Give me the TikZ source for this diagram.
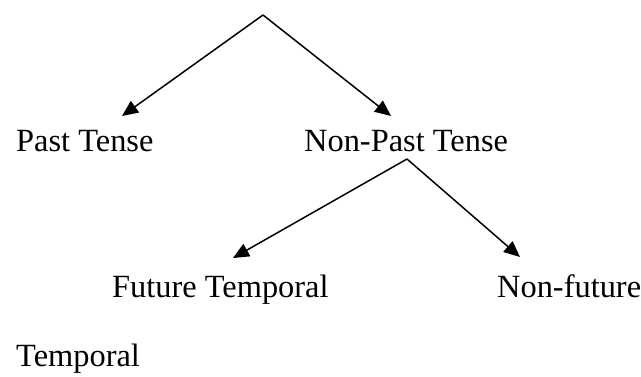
\documentclass[tikz,border=0pt]{standalone}
\usepackage{fontspec}
\setmainfont{Liberation Serif}
\usetikzlibrary{arrows.meta}
\begin{document}
\begin{tikzpicture}[x=1pt,y=-1pt,
  label/.style={anchor=base west,inner sep=0pt,font=\fontsize{32.4}{38}\selectfont},
  branch/.style={line width=1.5pt,-{Triangle[length=16pt,width=14pt]}}]
  \useasboundingbox (0,0) rectangle (641,376);
  % category labels
  \node[label] (past)    at (16,151)  {Past Tense};
  \node[label] (nonpast) at (304,151) {Non-Past Tense};
  \node[label] (future)  at (112,297) {Future Temporal};
  \node[label] (nonfut)  at (497,297) {Non-future};
  \node[label] (temp)    at (16,366)  {Temporal};
  % branching points and arrow ends
  \coordinate (top)   at (263,15);
  \coordinate (split) at (407,159);
  \coordinate (tpast)    at (122,116);
  \coordinate (tnonpast) at (391,116);
  \coordinate (tfuture)  at (233,258);
  \coordinate (tnonfut)  at (520,257);
  % tree branches
  \draw[branch] (top) -- (tpast);
  \draw[branch] (top) -- (tnonpast);
  \draw[branch] (split) -- (tfuture);
  \draw[branch] (split) -- (tnonfut);
\end{tikzpicture}
\end{document}
